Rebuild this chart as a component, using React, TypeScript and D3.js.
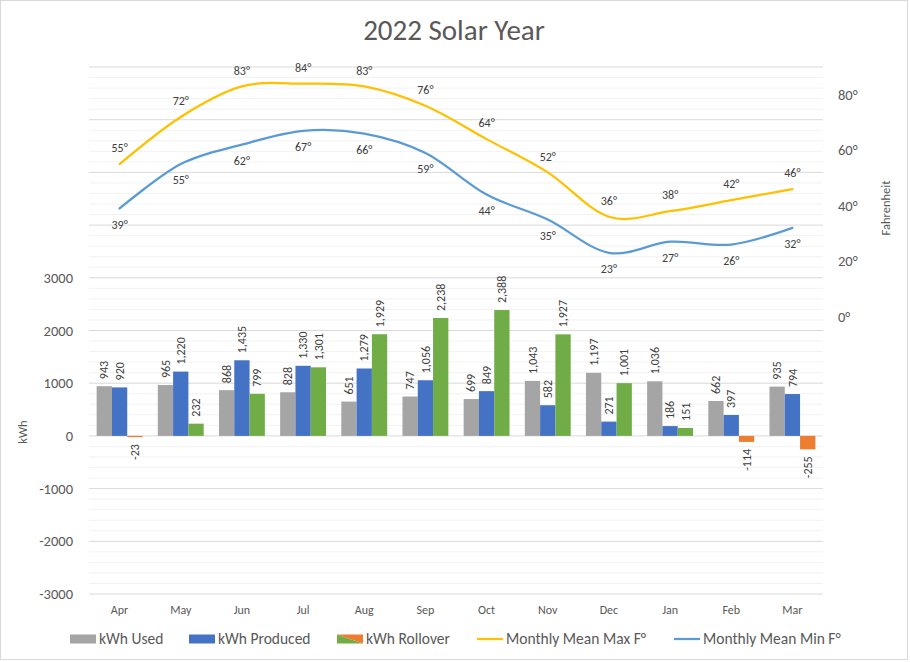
import { useMemo } from 'react'
import * as d3 from 'd3'

const months = ['Apr', 'May', 'Jun', 'Jul', 'Aug', 'Sep', 'Oct', 'Nov', 'Dec', 'Jan', 'Feb', 'Mar']
const kwhUsed = [943, 965, 868, 828, 651, 747, 699, 1043, 1197, 1036, 662, 935]
const kwhProduced = [920, 1220, 1435, 1330, 1279, 1056, 849, 582, 271, 186, 397, 794]
const kwhRollover = [-23, 232, 799, 1301, 1929, 2238, 2388, 1927, 1001, 151, -114, -255]
const maxTemp = [55, 72, 83, 84, 83, 76, 64, 52, 36, 38, 42, 46]
const minTemp = [39, 55, 62, 67, 66, 59, 44, 35, 23, 27, 26, 32]
const kwhTicks = [-3000, -2000, -1000, 0, 1000, 2000, 3000]
const tempTicks = [0, 20, 40, 60, 80]

const W = 910
const H = 662
const font = 'Calibri, Carlito, Lato, sans-serif'
const textColor = '#595959'

const colors = {
	used: '#A5A5A5',
	produced: '#4472C4',
	rollover: '#70AD47',
	rolloverNeg: '#ED7D31',
	max: '#FFC000',
	min: '#5B9BD5',
}

const fmt = d3.formatLocale({ decimal: '.', thousands: ',', grouping: [3], currency: ['$', ''], minus: '-' }).format(',')

export default function App() {
	const plot = { left: 89, right: 823, top: 67, bottom: 594 }

	const x = d3.scaleBand().domain(months).range([plot.left, plot.right])
	const bw = x.bandwidth()
	const inner = d3
		.scaleBand()
		.domain(['used', 'produced', 'rollover'])
		.range([bw / 8, (bw * 7) / 8])

	const yL = d3.scaleLinear().domain([-3000, 7000]).range([plot.bottom, plot.top])
	const yR = d3.scaleLinear().domain([-100, 90]).range([plot.bottom, plot.top])

	const series = [
		{ key: 'used', values: kwhUsed },
		{ key: 'produced', values: kwhProduced },
		{ key: 'rollover', values: kwhRollover },
	]

	const line = d3
		.line<number>()
		.x((_, i) => x(months[i])! + bw / 2)
		.y((d) => yR(d))
		.curve(d3.curveCardinal.tension(0))

	const minorGrid = useMemo(() => d3.range(-3000, 7001, 200).filter((v) => v % 1000 !== 0), [])
	const majorGrid = d3.range(-3000, 7001, 1000)

	const legend = [
		{ x: 70, kind: 'rect', color: colors.used, label: 'kWh Used' },
		{ x: 189, kind: 'rect', color: colors.produced, label: 'kWh Produced' },
		{ x: 337, kind: 'split', color: '', label: 'kWh Rollover' },
		{ x: 477, kind: 'line', color: colors.max, label: 'Monthly Mean Max F°' },
		{ x: 674, kind: 'line', color: colors.min, label: 'Monthly Mean Min F°' },
	]

	return (
		<div style={{ position: 'absolute', left: 0, top: 0 }}>
			<svg width={W} height={H} fontFamily={font} style={{ display: 'block', background: '#fff' }}>
				<rect x={0.5} y={0.5} width={907} height={659} fill='#fff' stroke='#d9d9d9' />

				{/* title */}
				<text x={454} y={40} textAnchor='middle' fontSize={29} fontWeight={300} fill={textColor}>
					2022 Solar Year
				</text>

				{/* gridlines */}
				{minorGrid.map((v) => (
					<line key={`m${v}`} x1={plot.left} x2={plot.right} y1={yL(v)} y2={yL(v)} stroke='#f2f2f2' strokeWidth={1} />
				))}
				{majorGrid.map((v) => (
					<line key={`M${v}`} x1={plot.left} x2={plot.right} y1={yL(v)} y2={yL(v)} stroke='#d9d9d9' strokeWidth={1} />
				))}

				{/* left axis labels */}
				{kwhTicks.map((t) => (
					<text key={t} x={73} y={yL(t)} dy='0.35em' textAnchor='end' fontSize={14.5} fill={textColor}>
						{t}
					</text>
				))}
				<text transform='translate(27,432) rotate(-90)' textAnchor='middle' fontSize={12.5} fill={textColor}>
					kWh
				</text>

				{/* right axis labels */}
				{tempTicks.map((t) => (
					<text key={t} x={838} y={yR(t)} dy='0.35em' fontSize={14.5} fill={textColor}>
						{t}°
					</text>
				))}
				<text transform='translate(890,208) rotate(-90)' textAnchor='middle' fontSize={12.5} fill={textColor}>
					Fahrenheit
				</text>

				{/* bars */}
				{series.map((s) =>
					s.values.map((v, i) => {
						const bx = x(months[i])! + inner(s.key)!
						const y0 = yL(0)
						const y1 = yL(v)
						const fill =
							s.key === 'rollover' ? (v < 0 ? colors.rolloverNeg : colors.rollover) : colors[s.key as 'used' | 'produced']
						const cx = bx + inner.bandwidth() / 2
						const neg = v < 0
						return (
							<g key={`${s.key}${i}`}>
								<rect x={bx} y={Math.min(y0, y1)} width={inner.bandwidth()} height={Math.abs(y1 - y0)} fill={fill} />
								<text
									transform={`translate(${cx},${neg ? y1 + 7 : y1 - 7}) rotate(-90)`}
									dy='0.35em'
									textAnchor={neg ? 'end' : 'start'}
									fontSize={12}
									fill='#404040'
								>
									{fmt(v)}
								</text>
							</g>
						)
					}),
				)}

				{/* temperature lines */}
				<path d={line(maxTemp) ?? ''} fill='none' stroke={colors.max} strokeWidth={2.25} strokeLinecap='round' />
				<path d={line(minTemp) ?? ''} fill='none' stroke={colors.min} strokeWidth={2.25} strokeLinecap='round' />
				{maxTemp.map((v, i) => (
					<text key={`tx${i}`} x={x(months[i])! + bw / 2} y={yR(v) - 16} dy='0.35em' textAnchor='middle' fontSize={12} fill='#404040'>
						{v}°
					</text>
				))}
				{minTemp.map((v, i) => (
					<text key={`tn${i}`} x={x(months[i])! + bw / 2} y={yR(v) + 16} dy='0.35em' textAnchor='middle' fontSize={12} fill='#404040'>
						{v}°
					</text>
				))}

				{/* month labels */}
				{months.map((m) => (
					<text key={m} x={x(m)! + bw / 2} y={614} textAnchor='middle' fontSize={12} fill={textColor}>
						{m}
					</text>
				))}

				{/* legend */}
				{legend.map((l) => (
					<g key={l.label} transform={`translate(${l.x},634)`}>
						{l.kind === 'rect' && <rect x={0} y={0.5} width={26} height={9} fill={l.color} />}
						{l.kind === 'split' && (
							<>
								<polygon points='0,0.5 0,9.5 26,9.5' fill={colors.rollover} />
								<polygon points='0,0.5 26,0.5 26,9.5' fill={colors.rolloverNeg} />
							</>
						)}
						{l.kind === 'line' && <line x1={0} x2={26} y1={5} y2={5} stroke={l.color} strokeWidth={2.25} />}
						<text x={29} y={10} fontSize={15.5} fill={textColor}>
							{l.label}
						</text>
					</g>
				))}
			</svg>
		</div>
	)
}
